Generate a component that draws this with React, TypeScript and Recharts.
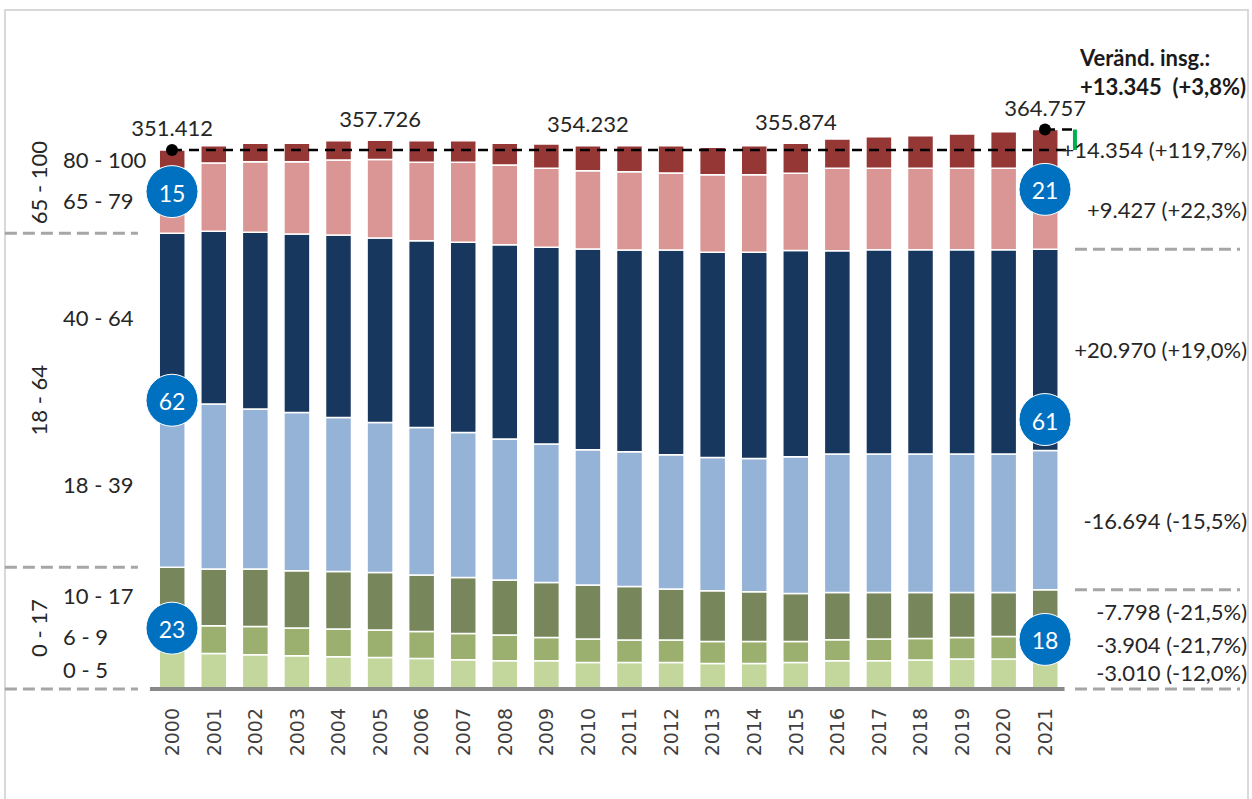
import React from 'react';
import { BarChart, Bar, XAxis, YAxis, ReferenceLine, ReferenceDot, LabelList } from 'recharts';

const years = ['2000', '2001', '2002', '2003', '2004', '2005', '2006', '2007', '2008', '2009', '2010',
  '2011', '2012', '2013', '2014', '2015', '2016', '2017', '2018', '2019', '2020', '2021'];

const age0to5 = [25085, 23211, 22364, 21712, 21060, 20603, 19951, 19104, 18452, 18452, 17343,
  17343, 17343, 16691, 16691, 17343, 18452, 18452, 18908, 19560, 19560, 22075];
const age6to9 = [17991, 18060, 18452, 18060, 18060, 17865, 17604, 17148, 16756, 15192, 15257,
  14605, 14605, 14344, 14344, 13692, 13692, 14148, 14083, 14083, 14735, 14087];
const age10to17 = [36270, 36968, 37425, 37360, 37555, 37555, 36773, 36512, 35860, 35860, 35208,
  34947, 33252, 33056, 32404, 31296, 30840, 30383, 29992, 29340, 28688, 28472];
const age18to39 = [107600, 107580, 104320, 103212, 100408, 97800, 96235, 94540, 91932, 90237, 88216,
  87824, 87564, 86912, 86912, 89128, 90237, 90237, 90237, 90237, 90237, 90906];
const age40to64 = [110200, 112535, 115143, 116317, 118925, 120202, 121728, 123880, 126684, 128183, 130856,
  131508, 133464, 133660, 134312, 134455, 132552, 133204, 133204, 133204, 133204, 131170];
const age65to79 = [42274, 44597, 46096, 47140, 48900, 51117, 51052, 52160, 51964, 51508, 51052,
  51052, 50204, 50660, 50660, 50400, 53660, 53008, 53008, 53008, 53008, 51701];
const age80to100 = [11992, 11280, 11932, 11932, 12584, 12584, 14148, 14148, 14083, 15909, 16300,
  16952, 17800, 17800, 18908, 19560, 19169, 20668, 21320, 22429, 23928, 26346];

const labeledYears = ['2000', '2005', '2010', '2015', '2021'];

const segments = [
  { key: 'a0', label: '0 - 5', color: '#C3D69B', values: age0to5 },
  { key: 'a6', label: '6 - 9', color: '#9BB06E', values: age6to9 },
  { key: 'a10', label: '10 - 17', color: '#77875B', values: age10to17 },
  { key: 'a18', label: '18 - 39', color: '#95B3D7', values: age18to39 },
  { key: 'a40', label: '40 - 64', color: '#17375E', values: age40to64 },
  { key: 'a65', label: '65 - 79', color: '#D99694', values: age65to79 },
  { key: 'a80', label: '80 - 100', color: '#953735', values: age80to100 },
];

const groups = [
  { label: '0 - 17', keys: ['a0', 'a6', 'a10'], dy: 0 },
  { label: '18 - 64', keys: ['a18', 'a40'], dy: 0 },
  { label: '65 - 100', keys: ['a65', 'a80'], dy: -9 },
];

// chart geometry (x axis is numeric: bar i sits at x = i)
const W = 1252;
const H = 799;
const X_DOMAIN = [-4.1375, 25.979];
const Y_MAX = 449200;
const GROUP_LABEL_X = -3.2;
const LEFT_LABEL_X = -2.62;
const LEFT_DASH = [-4.02, -0.82];
const RIGHT_DASH = [21.72, 25.69];
const RIGHT_LABEL_X = 25.86;
const AXIS_LINE = [-0.53, 21.47];

const FONT = 'Lato, "Open Sans", sans-serif';
const TXT = '#262626';

const fmtInt = (n: number) => {
  const s = Math.abs(Math.round(n)).toString().replace(/\B(?=(\d{3})+(?!\d))/g, '.');
  return (n < 0 ? '-' : '') + s;
};
const fmtSigned = (n: number) => (n >= 0 ? '+' : '') + fmtInt(n);
const fmtPct = (p: number) => (p >= 0 ? '+' : '-') + Math.abs(p).toFixed(1).replace('.', ',') + '%';

const last = years.length - 1;
const totals = years.map((_, i) => segments.reduce((s, seg) => s + seg.values[i], 0));

const data = years.map((year, i) => {
  const row: any = { idx: i, year, total: totals[i] };
  segments.forEach((seg) => { row[seg.key] = seg.values[i]; });
  row.totalLabel = labeledYears.includes(year) ? fmtInt(totals[i]) : '';
  return row;
});

// cumulative bottom/top of each segment in one bar
const stackBounds = (i: number) => {
  let acc = 0;
  const out: Record<string, [number, number]> = {};
  segments.forEach((seg) => {
    out[seg.key] = [acc, acc + seg.values[i]];
    acc += seg.values[i];
  });
  return out;
};
const first = stackBounds(0);
const final = stackBounds(last);

const groupRange = (b: Record<string, [number, number]>, keys: string[]) =>
  [b[keys[0]][0], b[keys[keys.length - 1]][1]];

const totalDiff = totals[last] - totals[0];

const YearTick = (props: any) => {
  const { x, y, payload } = props;
  const ty = y + 19;
  return (
    <text x={x} y={ty} transform={`rotate(-90 ${x} ${ty})`} textAnchor="end" dominantBaseline="central"
      fontSize={19} fontFamily='"DejaVu Sans", sans-serif' fill="#404040">
      {years[payload.value]}
    </text>
  );
};

const TotalLabel = (props: any) => {
  const { x, y, width, value } = props;
  if (!value) return null;
  return (
    <text x={x + width / 2} y={y - 22} textAnchor="middle" dominantBaseline="central"
      fontSize={22} fontFamily={FONT} fill={TXT}>{value}</text>
  );
};

const textShape = (text: string, anchor: string, opts: any = {}) => (p: any) => {
  const cy = p.cy + (opts.dy || 0);
  return (
    <text x={p.cx} y={cy} textAnchor={anchor} dominantBaseline="central" fontSize={22}
      fontFamily={FONT} fill={TXT} transform={opts.rotate ? `rotate(-90 ${p.cx} ${cy})` : undefined}>
      {text}
    </text>
  );
};

const badgeShape = (text: string) => (p: any) => (
  <g>
    <circle cx={p.cx} cy={p.cy} r={26} fill="#0070C0" stroke="#ffffff" strokeWidth={1} />
    <text x={p.cx} y={p.cy + 1} textAnchor="middle" dominantBaseline="central" fontSize={23}
      fontFamily={FONT} fill="#ffffff">{text}</text>
  </g>
);

const dashStyle = { stroke: '#A6A6A6', strokeWidth: 3, strokeDasharray: '12 6' };

export default function App() {
  const leftBreaks = [0, ...groups.slice(0, 2).map((g) => groupRange(first, g.keys)[1])];
  const rightBreaks = [0, ...groups.slice(0, 2).map((g) => groupRange(final, g.keys)[1])];

  return (
    <div style={{ position: 'absolute', left: 0, top: 0, width: W, height: H, background: '#fff', overflow: 'hidden' }}>
      <div style={{ position: 'absolute', left: 4, top: 9, width: 1245, height: 820, border: '2px solid #D9D9D9', boxSizing: 'border-box' }} />
      <div style={{ position: 'absolute', left: 1080, top: 43, fontFamily: FONT, fontWeight: 700, fontSize: 22, color: '#1a1a1a', lineHeight: '29px', whiteSpace: 'pre' }}>
        <div>Veränd. insg.:</div>
        <div>{fmtSigned(totalDiff)}  ({fmtPct((totalDiff / totals[0]) * 100)})</div>
      </div>
      <BarChart width={W} height={H} data={data} margin={{ top: 0, right: 0, bottom: 0, left: 0 }} barSize={26}>
        <XAxis dataKey="idx" type="number" domain={X_DOMAIN} allowDataOverflow ticks={years.map((_, i) => i)}
          interval={0} height={110} axisLine={false} tickLine={false} tickSize={0} tickMargin={0} tick={<YearTick />} />
        <YAxis hide width={0} domain={[0, Y_MAX]} allowDataOverflow />
        {segments.map((seg, si) => (
          <Bar key={seg.key} dataKey={seg.key} stackId="a" fill={seg.color} stroke="#ffffff" strokeWidth={1.5}
            isAnimationActive={false}>
            {si === segments.length - 1 && <LabelList dataKey="totalLabel" content={<TotalLabel />} />}
          </Bar>
        ))}

        {/* axis line */}
        <ReferenceLine segment={[{ x: AXIS_LINE[0], y: 0 }, { x: AXIS_LINE[1], y: 0 }]} ifOverflow="visible"
          stroke="#898989" strokeWidth={4} />

        {/* grey dashed group separators */}
        {leftBreaks.map((v, i) => (
          <ReferenceLine key={'ld' + i} segment={[{ x: LEFT_DASH[0], y: v }, { x: LEFT_DASH[1], y: v }]}
            ifOverflow="visible" {...dashStyle} />
        ))}
        {rightBreaks.map((v, i) => (
          <ReferenceLine key={'rd' + i} segment={[{ x: RIGHT_DASH[0], y: v }, { x: RIGHT_DASH[1], y: v }]}
            ifOverflow="visible" {...dashStyle} />
        ))}

        {/* total 2000 level and change bracket */}
        <ReferenceLine segment={[{ x: 0, y: totals[0] }, { x: 21.53, y: totals[0] }]} ifOverflow="visible"
          stroke="#000" strokeWidth={2.5} strokeDasharray="10 7" />
        <ReferenceLine segment={[{ x: last, y: totals[last] }, { x: 21.65, y: totals[last] }]} ifOverflow="visible"
          stroke="#000" strokeWidth={2.5} strokeDasharray="10 7" />
        <ReferenceLine segment={[{ x: 21.72, y: totals[0] }, { x: 21.72, y: totals[last] }]} ifOverflow="visible"
          stroke="#00B050" strokeWidth={4} />
        <ReferenceDot x={0} y={totals[0]} r={6} fill="#000" stroke="none" ifOverflow="visible" />
        <ReferenceDot x={last} y={totals[last]} r={6} fill="#000" stroke="none" ifOverflow="visible" />

        {/* age band labels left */}
        {segments.map((seg) => (
          <ReferenceDot key={'ll' + seg.key} x={LEFT_LABEL_X} y={(first[seg.key][0] + first[seg.key][1]) / 2}
            ifOverflow="visible" shape={textShape(seg.label, 'start')} />
        ))}
        {groups.map((g) => {
          const [lo, hi] = groupRange(first, g.keys);
          return (
            <ReferenceDot key={'gl' + g.label} x={GROUP_LABEL_X} y={(lo + hi) / 2} ifOverflow="visible"
              shape={textShape(g.label, 'middle', { rotate: true, dy: g.dy })} />
          );
        })}

        {/* change labels right */}
        {segments.map((seg) => {
          const diff = seg.values[last] - seg.values[0];
          const txt = `${fmtSigned(diff)} (${fmtPct((diff / seg.values[0]) * 100)})`;
          return (
            <ReferenceDot key={'rl' + seg.key} x={RIGHT_LABEL_X} y={(final[seg.key][0] + final[seg.key][1]) / 2}
              ifOverflow="visible" shape={textShape(txt, 'end')} />
          );
        })}

        {/* share badges */}
        {groups.map((g) => {
          const [lo, hi] = groupRange(first, g.keys);
          return (
            <ReferenceDot key={'b0' + g.label} x={0} y={(lo + hi) / 2} ifOverflow="visible"
              shape={badgeShape(String(Math.round(((hi - lo) / totals[0]) * 100)))} />
          );
        })}
        {groups.map((g) => {
          const [lo, hi] = groupRange(final, g.keys);
          return (
            <ReferenceDot key={'b1' + g.label} x={last} y={(lo + hi) / 2} ifOverflow="visible"
              shape={badgeShape(String(Math.round(((hi - lo) / totals[last]) * 100)))} />
          );
        })}
      </BarChart>
    </div>
  );
}
